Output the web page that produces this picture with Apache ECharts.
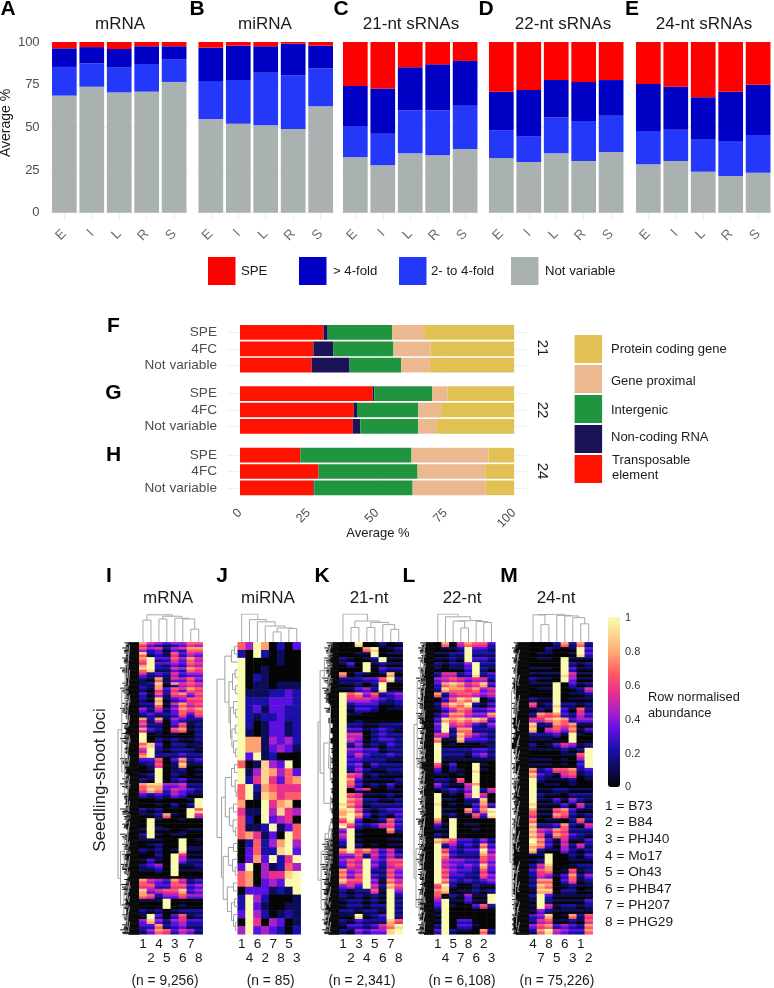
<!DOCTYPE html>
<html><head><meta charset="utf-8">
<style>html,body{margin:0;padding:0;background:#fff}#c{width:774px;height:988px}</style>
<script src="https://cdn.jsdelivr.net/npm/echarts@6/dist/echarts.min.js"></script>
</head><body><div id="c"></div>
<script>
// ---- Panels A-E: average % per tissue
const tissues=['E','I','L','R','S'];
const notVariableA=[68.6,73.8,70.5,70.9,76.6], twoFourA=[16.8,13.7,14.5,16.2,13.4], overFourA=[10.9,9.5,10.9,10.4,7.5], speA=[3.7,3,4.1,2.5,2.5];
const notVariableB=[54.9,52.1,51.2,49,62.3], twoFourB=[22.2,25.6,30.8,31.5,22.1], overFourB=[19.6,20.2,15.5,18.5,13.5], speB=[3.3,2.1,2.5,1,2.1];
const notVariableC=[32.6,27.9,34.8,33.6,37.3], twoFourC=[18.2,18.4,25.2,26.4,25.4], overFourC=[23.4,26.4,25.2,26.9,26.2], speC=[25.8,27.3,14.8,13.1,11.1];
const notVariableD=[32,29.7,34.8,30.3,35.5], twoFourD=[16.4,15.2,20.9,23.4,21.3], overFourD=[22.5,27,22,22.9,20.9], speD=[29.1,28.1,22.3,23.4,22.3];
const notVariableE=[28.3,30.3,24,21.5,23.4], twoFourE=[19.6,18.3,19.2,20.5,22.1], overFourE=[27.5,25.2,24.4,28.9,29.5], speE=[24.6,26.2,32.4,29.1,25];
const topNames=['Not variable','2- to 4-fold','> 4-fold','SPE'];
const topTitles=['mRNA','miRNA','21-nt sRNAs','22-nt sRNAs','24-nt sRNAs'];

// ---- Panels F-H: average % per genomic class (rows: SPE, 4FC, Not variable)
const classRows=['SPE','4FC','Not variable'];
const classNames=['Transposable element','Non-coding RNA','Intergenic','Gene proximal','Protein coding gene'];
const teF=[30.5,26.8,26.2], ncF=[1.5,7.2,13.8], igF=[23.5,22,18.8], gpF=[11.7,13.5,10.5], pcF=[32.8,30.5,30.7];
const teG=[48.4,41.5,41.2], ncG=[0.6,1.2,2.7], igG=[21.2,22.4,21.2], gpG=[5.5,8.3,6.5], pcG=[24.3,26.6,28.4];
const teH=[21.9,28.6,26.8], ncH=[0.1,0.1,0.3], igH=[40.6,36.1,35.9], gpH=[28.1,24.7,26.7], pcH=[9.3,10.5,10.3];

// ---- Panels I-M: heatmap rows, one digit per genotype column (0 = 0, 9 = 1)
const heatI=["75434466","64524577","82316354","79336475","59334365","89225476","52325344","21715464","12817565","21736576","31626746","21813466","22815756","42524767","23223636","72714322","62203612","73206712","90101002","90212112","68302211","59212221","69222322","33603723","12601811","01901201","12902101","21902311","78844522","68735432","32324311","00100019","00102029","21200096","11271095","09100100","09000000","19110011","29101100","11100901","01200900","21201911","00209511","13109422","23409112","11209111","00009000","75437523","66336634","84566834","76244644","11190000","00090100","21201222","19303612","48424533","33723422","24763542"];
const fineI=["53212354","42303266","61215243","69125364","79213254","68113265","31214233","10613353","21702454","10525365","20415535","10702355","11603645","31413656","12112525","51503211","41102501","52105601","90000001","90101001","78201101","49101110","79111211","22502612","01501700","00901100","01901000","10901200","67733411","57624321","21213200","00000009","00001019","10100098","00160094","09000000","09100000","09000100","19000000","00000900","00100911","10100800","00109400","02009311","12309001","00109000","00000000","64326412","55225523","73455723","65133533","00090000","00090000","10100111","09202501","37313422","22612311","13652431"];
const heatJ=["64970203","20920100","90000100","90010000","90210000","90110111","91112232","92223332","92313322","92122322","92013312","91013312","97714342","97713431","93912000","60184390","91487463","92585367","69276555","69187566","70095780","51194854","62093450","61129136","67513096","02624794","03622893","03739259","39041264","67045589","67034399","03331219","29420001","29310011","39420121","09504301","49343202"];
const heatK=["00900201","00079012","00119011","21012911","13091211","00090322","70210180","22233692","11202900","11342900","96746234","95554323","92333112","91332011","91100000","90000000","92211222","93312321","95502322","95402332","92412132","94433122","93532232","93322211","93413222","92421122","96512111","97311112","96312131","90450011","96511121","97622112","87512222","89621233","79731213","69301263","86323563","49100072","59100000","39100011","29201011","79675352","44625353","46594366","36594256","74592264","74693264","86694175","45395286","21226194","21212192","12212192","12212292","22122192","11912392","21322286","13323579","21434489"];
const fineK=["00800100","00068001","00009000","10001900","02090100","00090211","60100070","11122581","00101900","00231811","95635123","94443212","91222001","90221000","90000000","90100000","91100111","92201210","94401211","94301221","91301021","93322011","92421121","92211100","92302111","91310011","95401000","96200001","95201020","90100000","95400010","96511001","96401111","78510122","89620102","58200152","95212452","39000061","49000000","29000000","19100000","68564241","33514242","35493255","25493145","63491153","63592153","75593064","34294175","10115093","10101091","01101091","01101191","11011091","00801291","10211175","02212468","10323389"];
const heatL=["07057663","01129332","11229222","11219332","21224922","10113921","25523923","45654552","37875683","28776745","72566545","03687902","26879213","13576334","24775447","38787873","49565324","39277222","55286432","71183332","90100011","92222332","92221342","91111111","61300910","30210910","11010900","22160900","42115700","12324925","90105950","91102280","80101373","91107379","91201639","70900000","31901100","11900100","21900000","87633242","92423273","96323394","97322275","95443364","95434384","96433263","96332264","97323234","69200211","78011212","60214119","49113119","39100362","19000000","19000000","19033000","29033100","39211072"];
const fineL=["06046552","00019221","00119111","00109221","10113911","00002910","14412812","34543441","26764572","17665634","61455434","02576801","15768102","02465223","13664336","27676762","39454213","29166111","44175321","60072221","90000001","91111221","91110231","90000000","50200900","20100800","00000900","11050900","31004900","01213914","90004940","90001170","90000262","90006268","90100528","60900000","20900000","00900000","10900000","76522131","91312162","95212283","96211164","94332253","94323273","95322152","95221153","96212123","58100100","67000101","50103009","39002009","29000251","09000000","09000000","09022000","19022000","29100061"];
const heatM=["00027272","00210193","01100193","01109111","00009212","11109311","11119511","21109411","11190312","01190125","00090112","21190111","61292212","12193162","27673253","55787344","81276711","80564713","22231910","11100900","20135412","11112129","00001169","11101049","11101039","72366723","83215612","92111201","90110100","91122111","92110222","91131421","81113152","71167311","61176212","70110262","82237215","85476222","86276321","97315113","87315252","82114212","11900213","12900111","25800122","36701612","25413724","27703612","28701211","18802201","29311111","19211113","19512212","14211111","34801726","25611216","46734327","27954337"];
const fineM=["00016161","00100092","00000082","00009000","00009101","00009200","00008400","10009300","00090201","00090014","00090001","10090000","50181101","01092051","16562142","44676233","71165600","70453602","11120900","00000900","10024301","00001019","00000059","00000029","00000029","61255612","72104501","91000100","90000000","90011000","91000111","90020310","90002041","60056200","50065101","60000151","71126104","74365111","75165210","96204002","76204141","71003101","00900102","01900000","14700011","25600501","14302613","16602501","17600100","07701100","19200000","09100002","09401101","03100000","23700615","14500105","35623216","16843226"];
const colsI=['1','2','4','5','3','6','7','8'], colsJ=['1','4','6','2','7','8','5','3'], colsK=['1','2','3','4','5','6','7','8'], colsL=['1','4','5','7','8','6','2','3'], colsM=['4','7','8','5','6','3','1','2'];
const heatTitles=['mRNA','miRNA','21-nt','22-nt','24-nt'];
const heatCounts=['(n = 9,256)','(n = 85)','(n = 2,341)','(n = 6,108)','(n = 75,226)'];
const genotypes=['1 = B73','2 = B84','3 = PHJ40','4 = Mo17','5 = Oh43','6 = PHB47','7 = PH207','8 = PHG29'];

// dendrograms: leaf = column/row number, node = [height, child, child]
const colTreeI=[.97,[.78,0,1],[.92,[.82,2,3],[.85,4,[.82,5,[.46,6,7]]]]];
const colTreeJ=[1,0,[.8,1,[.72,2,[.57,3,[.5,[.36,4,5],[.48,6,7]]]]]];
const colTreeK=[1,0,[.75,[.52,1,2],[.7,[.52,3,4],[.62,5,[.45,6,7]]]]];
const colTreeL=[1,0,[.9,1,[.77,[.75,2,[.5,3,4]],[.73,5,[.7,6,7]]]]];
const colTreeM=[1,[.97,0,[.62,1,2]],[.95,3,[.93,4,[.87,5,[.65,6,7]]]]];
const rowTreeI=[1,[.82,[.66,[.55,[.5,0,3],[.5,5,8]],[.56,[.5,10,12],[.5,14,16]]],[.68,[.56,[.5,18,20],[.5,22,24]],[.55,[.5,26,28],[.5,31,33]]]],[.88,[.7,[.56,[.5,35,37],[.5,39,40]],[.57,[.5,42,44],[.5,45,46]]],[.72,[.56,[.5,47,49],[.5,50,51]],[.57,[.5,52,53],[.5,55,57]]]]];
const rowTreeJ=[1,[.62,[.3,[.15,0,1],2],[.42,[.25,[.12,3,4],[.1,5,6]],[.35,[.2,7,[.1,8,9]],[.28,[.12,10,11],[.2,12,[.1,13,14]]]]]],[.78,[.6,[.3,[.15,15,16],[.12,17,[.08,18,19]]],[.4,[.2,20,21],[.22,22,[.1,23,24]]]],[.7,[.45,[.2,25,26],[.25,27,[.12,28,29]]],[.5,[.2,30,31],[.3,[.15,32,33],[.2,34,[.1,35,36]]]]]]];
const rowTreeK=[1,[.9,[.7,[.55,[.48,0,2],[.48,4,5]],[.55,[.48,6,7],[.48,8,9]]],[.72,[.5,[.42,12,17],[.42,22,27]],[.42,30,33]]],[.85,[.66,[.52,[.46,35,37],[.46,38,40]],[.54,[.46,42,44],[.46,45,47]]],[.68,[.54,[.46,48,50],[.46,51,52]],[.55,[.46,53,54],[.46,55,57]]]]];
const rowTreeL=[1,[.84,[.68,[.55,[.5,0,2],[.5,4,6]],[.56,[.5,8,10],[.5,13,15]]],[.7,[.56,[.5,17,19],[.5,21,23]],[.55,[.5,25,27],[.5,30,33]]]],[.9,[.72,[.56,[.5,34,36],[.5,38,40]],[.57,[.5,41,43],[.5,45,47]]],[.74,[.57,[.5,48,49],[.5,50,51]],[.56,[.5,53,54],[.5,55,57]]]]];
const rowTreeM=[1,[.92,[.74,[.68,[.6,1,3],[.6,6,8]],[.68,[.6,10,13],[.6,15,17]]],[.76,[.68,[.6,18,20],[.6,21,23]],[.66,[.6,24,26],[.6,28,30]]]],[.88,[.76,[.66,[.6,31,33],[.6,34,36]],[.68,[.6,37,39],[.6,40,41]]],[.78,[.68,[.6,43,45],[.6,47,49]],[.68,[.6,51,53],[.6,55,57]]]]];
// jagged tips of the dense row dendrograms, one digit per row (tenths of the dendrogram width)
const tipsI="5556565655545655565456555655455655456555546565554556565565", combI="7878797689778976878977698778968779878697878798679877868789";
const tipsK="3434344344554445343433333333333333333333333344555655655655", combK="6767676868775734343434343434343434343447878798787878787878";
const tipsL="4545455445656556545554546555455554565554556564655654556565", combL="7878687978788798787878798778787878798787878978877879878789";
const tipsM="6767676787766778877897767765777676677787888876878876778887", combM="8989898999889989989999889979989989899899989999898989989999";

const FONT='"Liberation Sans",Arial,sans-serif';
const topColors=['#a9b1b1','#2438fa','#0000c4','#fe0000'];
const classColors=['#fe1200','#1b1357','#21943f','#ecb88f','#e1c054'];
const heatRamp=['#050505','#0c0c58','#1a10a8','#5a10e0','#a822c8','#e8308c','#ff5a68','#ffa070','#fdd48e','#fbfbb0'];

const grid=[],xAxis=[],yAxis=[],series=[],graphic=[];
function T(text,x,y,size,o){o=o||{};graphic.push({type:'text',x:x,y:y,rotation:o.rot||0,silent:true,z:10,
  style:{text:text,fill:o.fill||'#1a1a1a',font:(o.bold?'bold ':'')+size+'px '+FONT,align:o.align||'left',verticalAlign:'middle'}});}
function R(x,y,w,h,fill){graphic.push({type:'rect',silent:true,shape:{x:x,y:y,width:w,height:h},style:{fill:fill}});}

// A-E
const topData=[[notVariableA,twoFourA,overFourA,speA],[notVariableB,twoFourB,overFourB,speB],[notVariableC,twoFourC,overFourC,speC],[notVariableD,twoFourD,overFourD,speD],[notVariableE,twoFourE,overFourE,speE]];
const topLefts=[50.6,197.1,341.6,487.6,634.6];
topData.forEach((arrs,p)=>{
  const g=grid.length;
  grid.push({left:topLefts[p],top:42,width:137.25,height:170.7});
  xAxis.push({gridIndex:g,type:'category',data:tissues,axisLine:{show:false},axisTick:{show:true,alignWithLabel:true,length:7,lineStyle:{color:'#eeeeee'}},
    axisLabel:{rotate:45,color:'#6e6e6e',fontSize:13.5,fontFamily:FONT,margin:19},splitLine:{show:false}});
  yAxis.push({gridIndex:g,type:'value',min:0,max:100,interval:25,axisLine:{show:false},axisTick:{show:false},
    axisLabel:{show:p===0,color:'#4d4d4d',fontSize:13,fontFamily:FONT,margin:11},splitLine:{lineStyle:{color:'#f0f0f0'}}});
  arrs.forEach((a,i)=>series.push({type:'bar',xAxisIndex:g,yAxisIndex:g,stack:'t'+p,name:topNames[i],data:a,barWidth:'90%',itemStyle:{color:topColors[i]},silent:true}));
});
[120,265,411,563,704].forEach((x,i)=>T(topTitles[i],x,24,17,{align:'center'}));
[['A',8],['B',197],['C',341],['D',486],['E',632]].forEach(a=>T(a[0],a[1],9,21,{bold:true,align:'center',fill:'#000'}));
T('Average %',6,123,14,{rot:Math.PI/2,align:'center'});
[[208,'#fe0000',241,'SPE'],[299,'#0000c4',333,'> 4-fold'],[399,'#2438fa',431,'2- to 4-fold'],[511,'#a9b1b1',545,'Not variable']].forEach(l=>{R(l[0],257,27.5,28,l[1]);T(l[3],l[2],271,13.2);});

// F-H
const classData=[[teF,ncF,igF,gpF,pcF],[teG,ncG,igG,gpG,pcG],[teH,ncH,igH,gpH,pcH]];
const classTops=[324.3,385.5,447];
classData.forEach((arrs,p)=>{
  const g=grid.length;
  grid.push({left:240,top:classTops[p],width:274,height:49});
  xAxis.push({gridIndex:g,type:'value',min:0,max:100,interval:25,axisLine:{show:false},axisTick:{show:false},
    axisLabel:{show:p===2,rotate:45,color:'#4d4d4d',fontSize:12.5,fontFamily:FONT,margin:15},splitLine:{lineStyle:{color:'#f2f2f2'}}});
  const yi=yAxis.length;
  yAxis.push({gridIndex:g,type:'category',inverse:true,data:classRows,axisLine:{show:false},axisTick:{show:true,alignWithLabel:true,length:13,lineStyle:{color:'#f0f0f0'}},
    axisLabel:{interval:0,color:'#4d4d4d',fontSize:13.6,fontFamily:FONT,margin:23},splitLine:{show:false}});
  yAxis.push({gridIndex:g,type:'category',inverse:true,position:'right',data:classRows,axisLine:{show:false},axisTick:{show:true,alignWithLabel:true,length:13,lineStyle:{color:'#f0f0f0'}},axisLabel:{show:false},splitLine:{show:false}});
  arrs.forEach((a,i)=>series.push({type:'bar',xAxisIndex:g,yAxisIndex:yi,stack:'c'+p,name:classNames[i],data:a,barWidth:'90%',itemStyle:{color:classColors[i]},silent:true}));
});
[['F',326],['G',393],['H',455]].forEach(a=>T(a[0],113.5,a[1],21,{bold:true,align:'center',fill:'#000'}));
[['21',348],['22',410],['24',471]].forEach(a=>T(a[0],542,a[1],15,{rot:-Math.PI/2,align:'center'}));
T('Average %',378,533,13,{align:'center'});
[[335,classColors[4]],[365,classColors[3]],[395,classColors[2]],[425,classColors[1]],[455,classColors[0]]].forEach(l=>R(574.6,l[0],27.5,28,l[1]));
T('Protein coding gene',611,349,13);T('Gene proximal',611,381,13);T('Intergenic',611,410,13);T('Non-coding RNA',611,437,13);T('Transposable',612,460,13);T('element',612,475,13);

// I-M
function flatten(node,leafH,out){
  if(typeof node==='number')return{h:leafH,p:node+.5};
  const a=flatten(node[1],leafH,out),b=flatten(node[2],leafH,out);
  out.push(a,node[0],b);
  return{h:node[0],p:(a.p+b.p)/2};
}
function treeLines(tree,leafH,swap){
  const raw=[];flatten(tree,leafH,raw);const d=[];
  for(let i=0;i<raw.length;i+=3){const a=raw[i],h=raw[i+1],b=raw[i+2];
    [[a.h,a.p],[h,a.p],[h,b.p],[b.h,b.p]].forEach(q=>d.push(swap?[q[1],q[0]]:q));d.push([null,null]);}
  return d;
}
function weave(a,b){const o=[];a.forEach((r,i)=>{o.push(r);if(b)o.push(b[i]);});return o;}
const heatPanels=[
 {rows:weave(heatI,fineI),n:58,cols:colsI,left:139,width:63.7,dl:118,colTree:colTreeI,rowTree:rowTreeI,tips:tipsI,comb:combI,leaf:.45},
 {rows:heatJ,n:37,cols:colsJ,left:237.7,width:63,dl:217,colTree:colTreeJ,rowTree:rowTreeJ,leaf:0},
 {rows:weave(heatK,fineK),n:58,cols:colsK,left:339,width:63.7,dl:318,colTree:colTreeK,rowTree:rowTreeK,tips:tipsK,comb:combK,leaf:.4},
 {rows:weave(heatL,fineL),n:58,cols:colsL,left:434,width:61.3,dl:414,colTree:colTreeL,rowTree:rowTreeL,tips:tipsL,comb:combL,leaf:.45},
 {rows:weave(heatM,fineM),n:58,cols:colsM,left:529,width:63.7,dl:510,colTree:colTreeM,rowTree:rowTreeM,tips:tipsM,comb:combM,leaf:.5}];
const HT=642.3,HH=292,heatIdx=[];
heatPanels.forEach((P,p)=>{
  const n=P.n;
  let g=grid.length;
  grid.push({left:P.left,top:HT,width:P.width,height:HH});
  xAxis.push({gridIndex:g,type:'category',data:P.cols.map((c,i)=>i%2?'\n'+c:c),axisLine:{show:false},axisTick:{show:false},splitLine:{show:false},
    axisLabel:{interval:0,color:'#1a1a1a',fontSize:13.5,fontFamily:FONT,margin:3,lineHeight:14,verticalAlign:'top'}});
  const yi=yAxis.length;
  yAxis.push({gridIndex:g,type:'category',inverse:true,data:P.rows.map((r,i)=>i),show:false,splitLine:{show:false}});
  const cells=[];
  P.rows.forEach((r,ri)=>{for(let c=0;c<8;c++)cells.push([c,ri,(+r[c])/9]);});
  heatIdx.push(series.length);
  series.push({type:'heatmap',xAxisIndex:g,yAxisIndex:yi,data:cells,silent:true,progressive:0});
  g=grid.length;
  grid.push({left:P.left,top:614,width:P.width,height:28});
  xAxis.push({gridIndex:g,type:'value',min:0,max:8,show:false,splitLine:{show:false}});
  let yj=yAxis.length;
  yAxis.push({gridIndex:g,type:'value',min:0,max:1,show:false,splitLine:{show:false}});
  series.push({type:'line',xAxisIndex:g,yAxisIndex:yj,data:treeLines(P.colTree,0,true),showSymbol:false,silent:true,connectNulls:false,lineStyle:{color:'#a8a8a8',width:1}});
  g=grid.length;
  grid.push({left:P.dl,top:HT,width:P.left-P.dl,height:HH});
  xAxis.push({gridIndex:g,type:'value',min:0,max:1,inverse:true,show:false,splitLine:{show:false}});
  yj=yAxis.length;
  yAxis.push({gridIndex:g,type:'value',min:0,max:n,inverse:true,show:false,splitLine:{show:false}});
  series.push({type:'line',xAxisIndex:g,yAxisIndex:yj,data:treeLines(P.rowTree,P.leaf,false),showSymbol:false,silent:true,connectNulls:false,lineStyle:{color:'#a0a0a0',width:1}});
  if(P.tips){
    const d=[];for(let i=0;i<n;i++)d.push([i,(+P.tips[i])/10,(+P.comb[i])/10]);
    series.push({type:'custom',xAxisIndex:g,yAxisIndex:yj,data:d,silent:true,encode:{x:1,y:0},
      renderItem:function(par,api){
        const r=api.value(0),t=api.value(1),c=api.value(2);
        const a=api.coord([0,r]),b=api.coord([t,r+1]);
        const kids=[{type:'rect',shape:{x:b[0],y:a[1],width:a[0]-b[0],height:b[1]-a[1]+.5},style:{fill:'#000'}}];
        [[.12,c],[.37,(t+c)/2],[.62,c*.9],[.87,(t+c*2)/3]].forEach(q=>{
          const l0=api.coord([0,r+q[0]]),l1=api.coord([q[1],r+q[0]]);
          kids.push({type:'line',shape:{x1:l0[0],y1:l0[1],x2:l1[0],y2:l1[1]},style:{stroke:'#111',lineWidth:1}});
        });
        return{type:'group',children:kids};
      }});
  }
});
[168,268,369,462,556].forEach((x,i)=>T(heatTitles[i],x,598,17,{align:'center'}));
[['I',109],['J',222],['K',322],['L',409],['M',509]].forEach(a=>T(a[0],a[1],576,21,{bold:true,align:'center',fill:'#000'}));
[165,270.7,362,462,557].forEach((x,i)=>T(heatCounts[i],x,981,13.8,{align:'center'}));
T('Seedling-shoot loci',100,780,17,{rot:Math.PI/2,align:'center'});
[[1,618],[0.8,652],[0.6,686],[0.4,720],[0.2,754],[0,787]].forEach(a=>T(String(a[0]),625,a[1],11,{fill:'#333'}));
T('Row normalised',648,697,12.8);T('abundance',648,713,12.8);
genotypes.forEach((s,i)=>T(s,605,[806,822,839,856,872,889,905,922][i],13.7));

const chart=echarts.init(document.getElementById('c'),null,{renderer:'canvas'});
chart.setOption({animation:false,backgroundColor:'#fff',grid,xAxis,yAxis,series,graphic:{elements:graphic},
  tooltip:{show:false},
  visualMap:{type:'continuous',min:0,max:1,seriesIndex:heatIdx,calculable:false,left:593,top:602,itemWidth:12,itemHeight:170,text:null,showLabel:false,
    textStyle:{fontSize:0,color:'#fff'},inRange:{color:heatRamp},hoverLink:false,realtime:false}});
</script></body></html>
